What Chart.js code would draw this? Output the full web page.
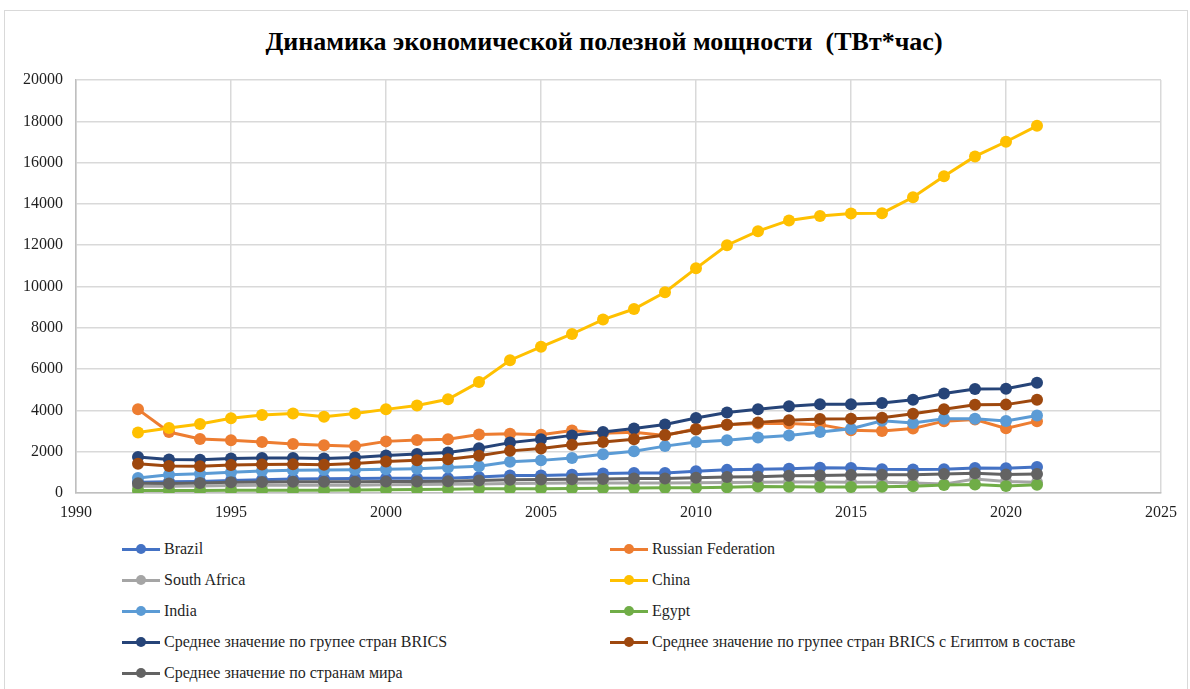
<!DOCTYPE html>
<html>
<head>
<meta charset="utf-8">
<script src="https://cdn.jsdelivr.net/npm/chart.js@4"></script>
<style>
body{margin:0;background:#fff;}
#wrap{position:relative;width:1190px;height:689px;overflow:hidden;background:#fff;}
#frame{position:absolute;left:4px;top:10px;width:1182px;height:700px;border:1px solid #d9d9d9;}
#box{position:absolute;left:0;top:0;width:1190px;height:533px;}
#title{position:absolute;left:0;top:27px;width:1208px;text-align:center;white-space:pre;font-family:"Liberation Serif","Times New Roman",serif;font-size:26px;font-weight:bold;color:#000;line-height:30px;}
#legend{position:absolute;left:0;top:0;font-family:"Liberation Serif","Times New Roman",serif;font-size:16px;color:#1f1f1f;}
.item{position:absolute;height:20px;display:flex;align-items:center;white-space:nowrap;}
.mark{position:relative;width:38px;height:20px;margin-right:4px;}
.mark i{position:absolute;left:0;right:0;top:8.5px;height:3px;}
.mark b{position:absolute;left:14px;top:5px;width:10px;height:10px;border-radius:50%;}
</style>
</head>
<body>
<div id="wrap">
  <div id="frame"></div>
  <div id="title"></div>
  <div id="box"><canvas id="chart"></canvas></div>
  <div id="legend"></div>
</div>
<script>
// DATA
const years=[1992,1993,1994,1995,1996,1997,1998,1999,2000,2001,2002,2003,2004,2005,2006,2007,2008,2009,2010,2011,2012,2013,2014,2015,2016,2017,2018,2019,2020,2021];

const brazil=[520,540,560,600,640,680,690,700,720,720,720,770,850,850,880,950,970,970,1050,1120,1150,1180,1220,1210,1150,1140,1150,1210,1200,1260];
const russia=[4050,2950,2620,2560,2470,2370,2310,2270,2500,2570,2600,2830,2870,2820,3030,2890,2940,2790,3110,3310,3370,3360,3310,3040,3000,3120,3480,3560,3130,3480];
const southAfrica=[330,330,340,360,370,380,380,380,400,410,420,440,460,470,480,490,490,480,500,510,520,530,530,520,520,480,430,680,560,520];
const china=[2930,3150,3340,3620,3780,3850,3690,3850,4050,4240,4540,5370,6430,7080,7700,8400,8910,9720,10880,12000,12680,13200,13410,13540,13550,14320,15340,16300,17010,17780];
const india=[730,880,930,1000,1060,1100,1110,1120,1150,1180,1230,1300,1510,1580,1700,1880,2020,2270,2470,2550,2690,2790,2950,3110,3500,3390,3600,3600,3490,3750];
const egypt=[120,120,120,130,130,130,130,140,160,170,180,200,210,210,220,230,240,250,260,280,310,300,290,290,300,330,390,410,340,400];
const bricsAvg=[1740,1620,1610,1670,1690,1700,1670,1720,1820,1890,1960,2170,2440,2600,2790,2950,3120,3320,3630,3900,4060,4200,4300,4300,4360,4520,4820,5040,5050,5340];
const bricsEgyptAvg=[1420,1310,1290,1360,1380,1390,1370,1430,1520,1590,1640,1800,2040,2150,2340,2470,2600,2810,3070,3310,3420,3520,3580,3590,3640,3840,4060,4270,4280,4520];
const worldAvg=[470,460,480,520,530,540,540,540,560,560,570,610,640,650,670,680,700,700,740,770,790,830,850,870,880,880,920,960,890,920];

const seriesNames=["Brazil","Russian Federation","South Africa","China","India","Egypt",
  "Среднее значение по групее стран BRICS",
  "Среднее значение по групее стран BRICS с Египтом в составе",
  "Среднее значение по странам мира"];
const seriesColors=["#4472C4","#ED7D31","#A5A5A5","#FFC000","#5B9BD5","#70AD47","#264478","#9E480E","#636363"];
const seriesValues=[brazil,russia,southAfrica,china,india,egypt,bricsAvg,bricsEgyptAvg,worldAvg];

const title="Динамика экономической полезной мощности  (ТВт*час)";
const serif='"Liberation Serif","Times New Roman",serif';

// TITLE
document.getElementById("title").textContent=title;

// DATASETS
const datasets=seriesValues.map((vals,i)=>({
    label:seriesNames[i],
    data:years.map((y,j)=>({x:y,y:vals[j]})),
    borderColor:seriesColors[i],
    backgroundColor:seriesColors[i],
    borderWidth:3,
    pointRadius:6,
    pointBorderWidth:0,
    order:seriesValues.length-i   // later series on top, like Excel
}));

// CHART
new Chart(document.getElementById("chart"),{
    type:"line",
    data:{datasets:datasets},
    options:{
        responsive:true,
        maintainAspectRatio:false,
        animation:false,
        layout:{padding:{left:0,right:29,top:80,bottom:0}},
        plugins:{
            legend:{display:false},
            tooltip:{enabled:false}
        },
        scales:{
            x:{
                type:"linear",
                min:1990,max:2025,
                ticks:{stepSize:5,color:"#1f1f1f",font:{family:serif,size:16},padding:10,callback:v=>String(v)},
                grid:{color:"#d9d9d9",lineWidth:1.5,drawTicks:false},
                border:{color:"#bfbfbf",width:1.5},
                afterFit:s=>{s.height=40;}
            },
            y:{
                min:0,max:20000,
                ticks:{stepSize:2000,color:"#1f1f1f",font:{family:serif,size:16},padding:13,callback:v=>String(v)},
                grid:{color:"#d9d9d9",lineWidth:1.5,drawTicks:false},
                border:{color:"#bfbfbf",width:1.5},
                afterFit:s=>{s.width=76;}
            }
        }
    }
});

// LEGEND (two columns)
const legend=document.getElementById("legend");
seriesNames.forEach((name,i)=>{
    const row=Math.floor(i/2), col=i%2;
    const el=document.createElement("div");
    el.className="item";
    el.style.left=(col?610:122)+"px";
    el.style.top=(539+row*31)+"px";
    el.innerHTML=`<span class="mark"><i style="background:${seriesColors[i]}"></i><b style="background:${seriesColors[i]}"></b></span>${name}`;
    legend.appendChild(el);
});
</script>
</body>
</html>
